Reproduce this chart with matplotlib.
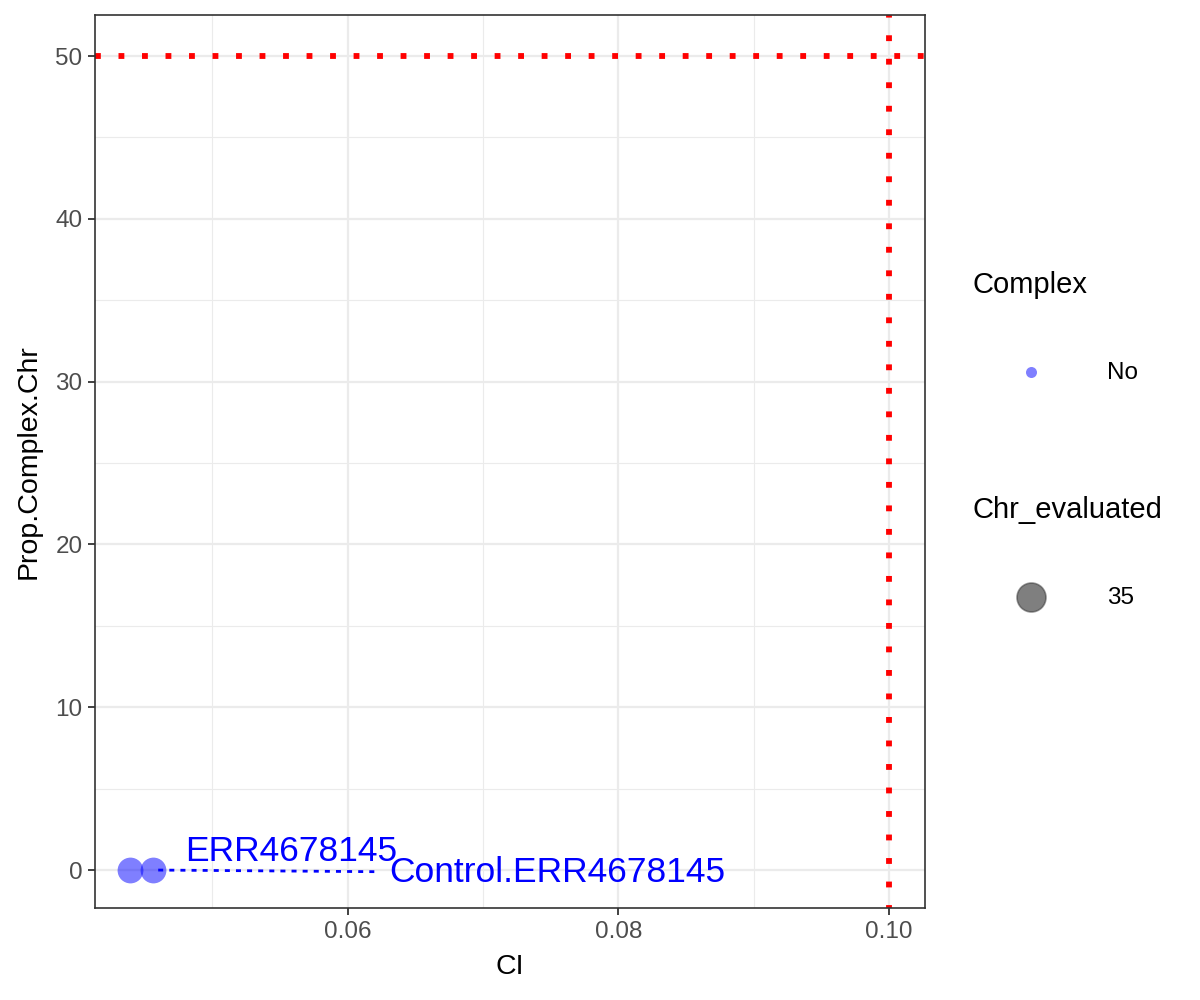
import matplotlib
matplotlib.use('Agg')
import matplotlib.pyplot as plt

plt.rcParams['font.family'] = ['Liberation Sans', 'DejaVu Sans']

# data
ci = [0.0439, 0.0456]
prop_complex = [0, 0]
samples = ['ERR4678145', 'Control.ERR4678145']
ci_cut = 0.10
prop_cut = 50

x_ticks = [0.06, 0.08, 0.10]
x_tick_labels = ['0.06', '0.08', '0.10']
x_minor = [0.05, 0.07, 0.09]
y_ticks = [0, 10, 20, 30, 40, 50]
y_minor = [5, 15, 25, 35, 45]

# label placement (ggrepel-like), in data coords
label_pos = [(0.0480, 1.15), (0.0631, -0.15)]
seg_start = (0.0460, 0.0)
seg_end = (0.0621, -0.1)

fig = plt.figure(figsize=(12, 10), dpi=100)
ax = fig.add_axes([95/1200, 92/1000, 830/1200, 893/1000])

ax.set_xlim(0.04133, 0.10266)
ax.set_ylim(-2.33, 52.52)

# grid (theme_bw)
for v in x_ticks:
    ax.axvline(v, color='#EBEBEB', lw=1.6, zorder=0)
for v in x_minor:
    ax.axvline(v, color='#EBEBEB', lw=0.8, zorder=0)
for v in y_ticks:
    ax.axhline(v, color='#EBEBEB', lw=1.6, zorder=0)
for v in y_minor:
    ax.axhline(v, color='#EBEBEB', lw=0.8, zorder=0)

# threshold lines
ax.axhline(prop_cut, color='red', lw=4.2, ls=(0, (1, 3.03)), zorder=2)
ax.axvline(ci_cut, color='red', lw=4.2, ls=(0.5, (1, 3.03)), zorder=2)

ax.scatter(ci, prop_complex, s=345, color='blue', alpha=0.5, lw=0, zorder=3)

# labels
ax.plot([seg_start[0], seg_end[0]], [seg_start[1], seg_end[1]], color='blue',
        lw=2.0, ls=(0, (1.8, 2.2)), solid_capstyle='butt', zorder=4)
for lab, (lx, ly) in zip(samples, label_pos):
    ax.text(lx, ly, lab, color='blue', fontsize=25.5, ha='left', va='center', zorder=5)

ax.set_xticks(x_ticks)
ax.set_xticklabels(x_tick_labels)
ax.set_yticks(y_ticks)
ax.tick_params(axis='both', length=5, width=1.3, color='#333333',
               labelsize=17.5, labelcolor='#4D4D4D', pad=4)
for sp in ax.spines.values():
    sp.set_color('#333333')
    sp.set_linewidth(1.2)

ax.set_xlabel('CI', fontsize=20.5, labelpad=8)
ax.set_ylabel('Prop.Complex.Chr', fontsize=20.5, labelpad=10)

# legends, drawn in pixel space
lax = fig.add_axes([0, 0, 1, 1])
lax.set_xlim(0, 1200)
lax.set_ylim(1000, 0)
lax.axis('off')
lax.text(973, 285, 'Complex', fontsize=21, ha='left', va='center')
lax.scatter([1031], [372], s=63, color='blue', alpha=0.5, lw=0)
lax.text(1107, 373, 'No', fontsize=17.5, ha='left', va='center')
lax.text(973, 510, 'Chr_evaluated', fontsize=21, ha='left', va='center')
lax.scatter([1031], [597], s=436, color='black', alpha=0.5, lw=1.2, edgecolor='#333333')
lax.text(1107, 598, '35', fontsize=17.5, ha='left', va='center')

fig.savefig('out.png', dpi=100)
